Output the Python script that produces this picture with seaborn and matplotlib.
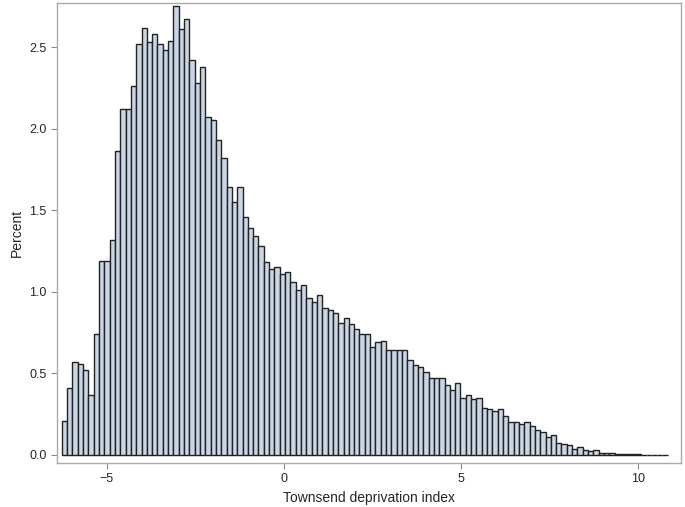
import numpy as np
import pandas as pd
import matplotlib
matplotlib.use("Agg")
import matplotlib.pyplot as plt
import seaborn as sns

bin_start = -6.27
bin_width = 0.15
percent = [0.21, 0.41, 0.57, 0.56, 0.52, 0.37, 0.74, 1.19, 1.19, 1.32,
           1.86, 2.12, 2.12, 2.26, 2.52, 2.62, 2.53, 2.58, 2.52, 2.48,
           2.54, 2.75, 2.61, 2.67, 2.42, 2.28, 2.38, 2.07, 2.05, 1.93,
           1.82, 1.64, 1.55, 1.64, 1.46, 1.39, 1.34, 1.28, 1.18, 1.14,
           1.15, 1.11, 1.12, 1.06, 1.01, 1.04, 0.96, 0.94, 0.98, 0.90,
           0.89, 0.87, 0.81, 0.84, 0.80, 0.77, 0.74, 0.74, 0.66, 0.69,
           0.70, 0.64, 0.64, 0.64, 0.64, 0.58, 0.55, 0.54, 0.51, 0.47,
           0.47, 0.47, 0.43, 0.40, 0.44, 0.35, 0.37, 0.34, 0.35, 0.29,
           0.28, 0.27, 0.28, 0.24, 0.20, 0.20, 0.19, 0.20, 0.18, 0.15,
           0.14, 0.11, 0.12, 0.075, 0.067, 0.063, 0.037, 0.047, 0.031, 0.025,
           0.027, 0.010, 0.014, 0.014, 0.008, 0.008, 0.006, 0.004, 0.003, 0.002,
           0.002, 0.001, 0.001, 0.001]

n = len(percent)
centers = bin_start + bin_width * (np.arange(n) + 0.5)
df = pd.DataFrame({"x": centers, "w": percent})

sns.set_style("white")
plt.rcParams['font.family'] = ['Liberation Sans', 'DejaVu Sans']
fig = plt.figure(figsize=(6.85, 5.07), dpi=100)
ax = fig.add_axes([0.083, 0.087, 0.911, 0.907])
sns.histplot(data=df, x="x", weights="w", binwidth=bin_width,
             binrange=(bin_start, bin_start + bin_width * n), ax=ax,
             color="#c9d6e5", edgecolor="#222222", linewidth=1.0, alpha=1)
ax.set_xlim(-6.41, 11.2)
ax.set_ylim(-0.049, 2.77)
ax.set_xticks([-5, 0, 5, 10])
ax.set_yticks([0, 0.5, 1.0, 1.5, 2.0, 2.5])
ax.set_yticklabels(["0.0", "0.5", "1.0", "1.5", "2.0", "2.5"])
ax.tick_params(axis="both", labelsize=9, length=4, color="#888888", direction="out",
               bottom=True, left=True)
ax.set_xlabel("Townsend deprivation index", fontsize=10)
ax.set_ylabel("Percent", fontsize=10)
for s in ax.spines.values():
    s.set_color("#aaaaaa")
    s.set_linewidth(1)
fig.savefig("out.png", dpi=100)
